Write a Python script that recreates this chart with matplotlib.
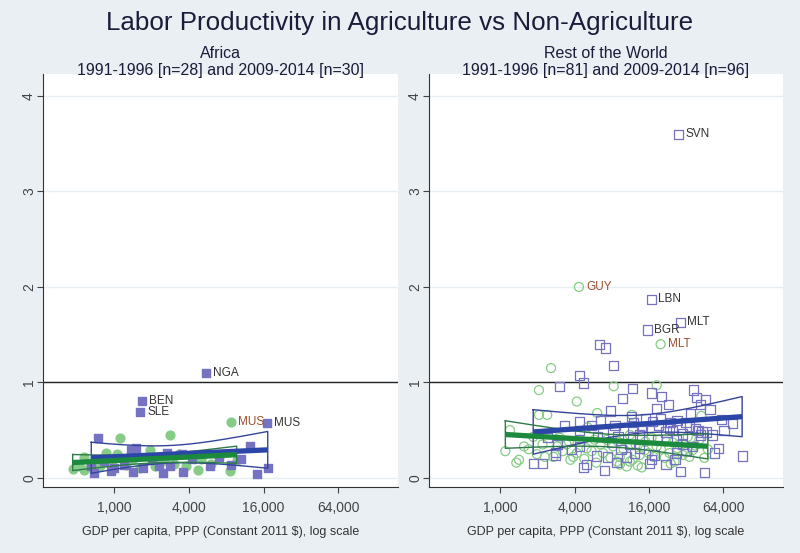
import matplotlib
matplotlib.use("Agg")
import matplotlib.pyplot as plt
from matplotlib import ticker
import numpy as np

# ---- data (GDP per capita PPP, ratio agri / non-agri labor productivity) ----
# Africa, 1991-1996 (circles)
af_old_x = [460, 520, 570, 570, 650, 760, 860, 950, 1040, 1100, 1250, 1400, 1600, 1920,
            2110, 2400, 2800, 3000, 3300, 3800, 4700, 4960, 6000, 7000, 8650, 8700, 9700, 2600]
af_old_y = [0.09, 0.12, 0.22, 0.08, 0.15, 0.12, 0.26, 0.18, 0.25, 0.42, 0.14, 0.20, 0.10, 0.29,
            0.12, 0.18, 0.45, 0.15, 0.25, 0.12, 0.08, 0.20, 0.15, 0.22, 0.07, 0.59, 0.19, 0.22]
af_old_lab = [""] * 25 + ["MUS", "", ""]

# Africa, 2009-2014 (squares)
af_new_x = [650, 690, 740, 820, 945, 1000, 1200, 1370, 1400, 1500, 1620, 1685, 1690, 2030, 2300,
            2450, 2680, 2800, 3500, 3550, 4200, 5450, 5880, 7000, 8800, 10500, 12400, 14300, 17000, 17300]
af_new_y = [0.12, 0.05, 0.42, 0.18, 0.07, 0.10, 0.14, 0.29, 0.06, 0.31, 0.69, 0.81, 0.10, 0.19, 0.12,
            0.05, 0.26, 0.13, 0.25, 0.06, 0.20, 1.10, 0.12, 0.22, 0.14, 0.20, 0.33, 0.04, 0.58, 0.10]
af_new_lab = [""] * 10 + ["SLE", "BEN"] + [""] * 9 + ["NGA"] + [""] * 6 + ["MUS", ""]

# Rest of the world, 1991-1996 (circles)
rw_old_x = [1100, 1200, 1350, 1420, 1560, 1850, 1980, 2060, 2060, 2300, 2400, 2580, 2600, 2700, 2900,
            3050, 3450, 3700, 3900, 4170, 4170, 4340, 4400, 5000, 5100, 5800, 6000, 6100, 6800, 7300,
            8200, 8300, 8800, 9300, 9300, 10600, 11200, 11200, 11600, 11800, 13000, 14000, 14800, 15900,
            16800, 18500, 18500, 19900, 21500, 23500, 25000, 25800, 27300, 30000, 32000, 33000, 36000,
            41000, 42500, 45000,
            1700, 2200, 3200, 3600, 4800, 5500, 6500, 7800, 9000, 10000, 12500, 13500, 15000, 17500,
            20000, 22000, 24000, 28000, 34000, 38000, 48000]
rw_old_y = [0.28, 0.50, 0.16, 0.19, 0.33, 0.43, 0.25, 0.92, 0.66, 0.22, 0.66, 1.15, 0.47, 0.22, 0.33,
            0.42, 0.35, 0.19, 0.22, 0.80, 0.26, 2.00, 0.40, 0.31, 0.53, 0.40, 0.16, 0.68, 0.26, 0.40,
            0.33, 0.96, 0.17, 0.22, 0.14, 0.12, 0.17, 0.45, 0.66, 0.19, 0.13, 0.11, 0.29, 0.26,
            0.42, 0.33, 0.97, 1.40, 0.21, 0.26, 0.37, 0.17, 0.31, 0.24, 0.27, 0.43, 0.29,
            0.40, 0.65, 0.21,
            0.30, 0.35, 0.28, 0.38, 0.20, 0.28, 0.35, 0.21, 0.38, 0.30, 0.35, 0.24, 0.38, 0.22,
            0.30, 0.38, 0.15, 0.35, 0.22, 0.34, 0.30]
rw_old_lab = [""] * len(rw_old_x)
rw_old_lab[21] = "GUY"
rw_old_lab[47] = "MLT"

# Rest of the world, 2009-2014 (squares)
rw_new_x = [1850, 2200, 2800, 2800, 2900, 3000, 4400, 4750, 4400, 4400, 4400, 4700, 5000, 6000, 6100,
            6400, 6800, 7000, 7100, 7400, 7800, 8000, 8300, 8800, 9000, 9800, 10600, 11200, 11600, 11800,
            11800, 12300, 13500, 13500, 14000, 14300, 15600, 16200, 16800, 16800, 16800, 17200, 17800,
            18500, 18800, 20200, 22000, 22000, 23000, 23500, 25000, 26000, 26700, 26700, 27800, 28800,
            29000, 30000, 32000, 32000, 34000, 35000, 36000, 36700, 38600, 41600, 42000, 43000, 45000,
            45700, 50000, 54000, 59000, 61600, 75500, 91000,
            2400, 3300, 3800, 5500, 6500, 8500, 9500, 10000, 12000, 15000, 19000, 20000, 24000, 27000,
            30000, 38000, 40000, 47000, 52000, 65000]
rw_new_y = [0.15, 0.15, 0.27, 0.24, 0.35, 0.96, 1.07, 0.995, 0.59, 0.50, 0.33, 0.11, 0.14, 0.23, 0.43,
            1.40, 0.47, 0.08, 1.36, 0.22, 0.70, 0.37, 1.18, 0.16, 0.43, 0.83, 0.22, 0.35, 0.64, 0.94,
            0.43, 0.26, 0.31, 0.45, 0.54, 0.50, 1.55, 0.15, 0.89, 0.19, 1.87, 0.59, 0.24,
            0.73, 0.40, 0.85, 0.14, 0.48, 0.77, 0.52, 0.50, 0.19, 0.26, 0.40, 3.60, 1.63,
            0.07, 0.35, 0.58, 0.29, 0.54, 0.67, 0.33, 0.92, 0.84, 0.77, 0.45, 0.48, 0.06,
            0.82, 0.72, 0.26, 0.31, 0.61, 0.57, 0.23,
            0.42, 0.55, 0.30, 0.55, 0.60, 0.55, 0.30, 0.50, 0.58, 0.62, 0.55, 0.62, 0.58, 0.60,
            0.46, 0.52, 0.50, 0.48, 0.45, 0.50]
rw_new_lab = [""] * len(rw_new_x)
rw_new_lab[36] = "BGR"
rw_new_lab[40] = "LBN"
rw_new_lab[54] = "SVN"
rw_new_lab[55] = "MLT"

x_ticks = [1000, 4000, 16000, 64000]
y_ticks = [0, 1, 2, 3, 4]

# ---- style ----
BG = "#E9EFF3"
GRID = "#E6EDF1"
SQ = "#7672C2"
CI = "#86CC86"
BLUE = "#2B46A6"
GREEN = "#1C8A3C"
BAND_B = "#34449A"
BAND_G = "#2D7A4A"
LAB_SQ = "#333333"
LAB_CI = "#9A4E2A"

plt.rcParams["font.family"] = ["Liberation Sans", "DejaVu Sans"]


def lfitci(ax, x, y, line_col, band_col):
    lx = np.log(np.asarray(x, float))
    y = np.asarray(y, float)
    n = len(lx)
    b, a = np.polyfit(lx, y, 1)
    resid = y - (a + b * lx)
    s = np.sqrt(np.sum(resid ** 2) / (n - 2))
    sxx = np.sum((lx - lx.mean()) ** 2)
    g = np.linspace(lx.min(), lx.max(), 100)
    fit = a + b * g
    half = 2.0 * s * np.sqrt(1.0 / n + (g - lx.mean()) ** 2 / sxx)
    gx = np.exp(g)
    px = np.concatenate([gx, gx[::-1], gx[:1]])
    py = np.concatenate([fit + half, (fit - half)[::-1], (fit + half)[:1]])
    ax.plot(px, py, color=band_col, lw=1.0, zorder=4)
    ax.plot(gx, fit, color=line_col, lw=3.8, solid_capstyle="butt", zorder=5)


def panel(ax, ox, oy, olab, nx, ny, nlab, filled):
    ax.set_facecolor("white")
    ax.set_xscale("log")
    ax.set_xlim(265, 195000)
    ax.set_ylim(-0.095, 4.23)
    for yv in y_ticks:
        ax.axhline(yv, color=GRID, lw=1.0, zorder=0)
    ax.axhline(1, color="#222222", lw=1.0, zorder=1)

    if filled:
        ax.scatter(ox, oy, s=40, marker="o", color=CI, edgecolor=CI, zorder=2)
        ax.scatter(nx, ny, s=40, marker="s", color=SQ, edgecolor=SQ, zorder=3)
    else:
        ax.scatter(ox, oy, s=42, marker="o", facecolor="none", edgecolor=CI, lw=0.9, zorder=2)
        ax.scatter(nx, ny, s=44, marker="s", facecolor="none", edgecolor=SQ, lw=0.9, zorder=3)

    for xv, yv, t in zip(ox, oy, olab):
        if t:
            ax.annotate(t, (xv, yv), xytext=(5, 0), textcoords="offset points",
                        va="center", ha="left", fontsize=8.5, color=LAB_CI, zorder=6)
    for xv, yv, t in zip(nx, ny, nlab):
        if t:
            ax.annotate(t, (xv, yv), xytext=(5, 0), textcoords="offset points",
                        va="center", ha="left", fontsize=8.5, color=LAB_SQ, zorder=6)

    lfitci(ax, nx, ny, BLUE, BAND_B)
    lfitci(ax, ox, oy, GREEN, BAND_G)

    ax.set_xticks(x_ticks)
    ax.xaxis.set_major_formatter(ticker.FuncFormatter(lambda v, p: f"{v:,.0f}"))
    ax.xaxis.set_minor_locator(ticker.NullLocator())
    ax.set_yticks(y_ticks)
    for lab in ax.get_yticklabels():
        lab.set_rotation(90)
        lab.set_va("center")
    ax.tick_params(axis="both", colors="#444444", labelcolor="#444444", length=4, width=0.8)
    ax.tick_params(axis="y", labelsize=10, pad=1)
    ax.tick_params(axis="x", labelsize=10, pad=6)
    for sp in ["top", "right"]:
        ax.spines[sp].set_visible(False)
    ax.spines["left"].set_color("#333333")
    ax.spines["bottom"].set_color("#333333")
    ax.set_xlabel("GDP per capita, PPP (Constant 2011 $), log scale", fontsize=9,
                  color="#333333", labelpad=8)


fig = plt.figure(figsize=(8, 5.53), dpi=100, facecolor=BG)
H = 553.0
ax1 = fig.add_axes([43 / 800, (H - 487) / H, (398 - 43) / 800, (487 - 74) / H])
ax2 = fig.add_axes([429 / 800, (H - 487) / H, (783 - 429) / 800, (487 - 74) / H])

panel(ax1, af_old_x, af_old_y, af_old_lab, af_new_x, af_new_y, af_new_lab, True)
panel(ax2, rw_old_x, rw_old_y, rw_old_lab, rw_new_x, rw_new_y, rw_new_lab, False)

fig.text(0.5, 1 - 23 / H, "Labor Productivity in Agriculture vs Non-Agriculture",
         ha="center", va="center", fontsize=18.7, color="#1C1C3A")
for cx, name, n1, n2 in [(220, "Africa", len(af_old_x), len(af_new_x)),
                         (606, "Rest of the World", len(rw_old_x), len(rw_new_x))]:
    fig.text(cx / 800, 1 - 53 / H, name, ha="center", va="center", fontsize=11.5, color="#1C1C3A")
    fig.text(cx / 800, 1 - 70 / H, f"1991-1996 [n={n1}] and 2009-2014 [n={n2}]",
             ha="center", va="center", fontsize=11.5, color="#1C1C3A")

fig.savefig("out.png", dpi=100, facecolor=BG)
